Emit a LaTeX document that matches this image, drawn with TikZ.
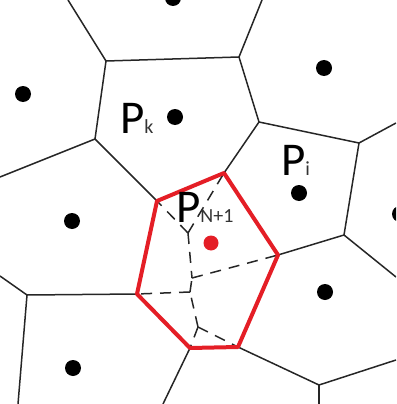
\documentclass[tikz,border=0pt]{standalone}
\usepackage{fontspec}
\setmainfont{Carlito}
\definecolor{cellred}{RGB}{228,30,38}
\newcommand{\lblsub}[1]{{\fontsize{20}{20}\selectfont\color{black!80}#1}}
\begin{document}
\begin{tikzpicture}[x=1pt,y=-1pt,
  edge/.style={line width=1.5pt, black!85},
  oldedge/.style={line width=1.5pt, black!85, dash pattern=on 11pt off 8pt},
  newcell/.style={line width=4pt, cellred, line join=round},
  site/.style={circle, fill=black, inner sep=0pt, minimum size=16pt},
  newsite/.style={circle, fill=cellred, inner sep=0pt, minimum size=15pt},
  lbl/.style={anchor=base west, inner sep=0pt, font=\fontsize{47}{47}\selectfont}]
\useasboundingbox (0,0) rectangle (396,404);
\clip (0,0) rectangle (396,404);
% vertices of the old cells
\coordinate (a) at (106,61);
\coordinate (b) at (239,57);
\coordinate (c) at (259,122);
\coordinate (d) at (359,143);
\coordinate (e) at (344,235);
\coordinate (h) at (95,139);
\coordinate (m) at (27,295);
\coordinate (n) at (319,385);
% vertices of the new cell
\coordinate (ni) at (157,201);
\coordinate (ng) at (224,173);
\coordinate (nf) at (278,255);
\coordinate (nj) at (238,347);
\coordinate (nk) at (190,348);
\coordinate (nl) at (137,294);
% removed vertices inside the new cell
\coordinate (v1) at (188,233);
\coordinate (v2) at (192,278);
\coordinate (v3) at (190,292);
\coordinate (v4) at (198,327);
% ends at the border
\coordinate (at) at (68,0);
\coordinate (bt) at (262,0);
\coordinate (dr) at (396,123);
\coordinate (er) at (396,277);
\coordinate (hl) at (0,177);
\coordinate (ml) at (0,276);
\coordinate (mb) at (18,404);
\coordinate (kb) at (163,404);
\coordinate (nr) at (396,360);
\coordinate (nb) at (319,404);

\draw[edge] (at) -- (a) -- (b) -- (bt);
\draw[edge] (b) -- (c) -- (d) -- (dr);
\draw[edge] (d) -- (e) -- (er);
\draw[edge] (e) -- (nf);
\draw[edge] (c) -- (ng);
\draw[edge] (a) -- (h) -- (hl);
\draw[edge] (h) -- (ni);
\draw[edge] (ml) -- (m) -- (mb);
\draw[edge] (m) -- (nl);
\draw[edge] (nk) -- (kb);
\draw[edge] (nj) -- (n) -- (nr);
\draw[edge] (n) -- (nb);

\draw[oldedge] (v1) -- (ni);
\draw[oldedge] (v1) -- (ng);
\draw[oldedge] (v1) -- (v2);
\draw[oldedge] (v2) -- (nf);
\draw[oldedge] (v3) -- (v2);
\draw[oldedge] (v3) -- (nl);
\draw[oldedge] (v4) -- (v3);
\draw[oldedge] (v4) -- (nj);
\draw[oldedge] (v4) -- (nk);

\draw[newcell] (ni) -- (ng) -- (nf) -- (nj) -- (nk) -- (nl) -- cycle;

\node[site] (s1) at (23,94) {};
\node[site] (s2) at (175,117) {};
\node[site] (s3) at (173,-2) {};
\node[site] (s4) at (324,68) {};
\node[site] (s5) at (299,193) {};
\node[site] (s6) at (72,221) {};
\node[site] (s7) at (73,368) {};
\node[site] (s8) at (325,292) {};
\node[site] (s9) at (400,214) {};
\node[newsite] (snew) at (211,243) {};

\node[lbl] (pk) at (120,133) {P\lblsub{k}};
\node[lbl] (pi) at (281,175) {P\lblsub{i}};
\node[lbl] (pn) at (176,222) {P\lblsub{N+1}};
\end{tikzpicture}
\end{document}
